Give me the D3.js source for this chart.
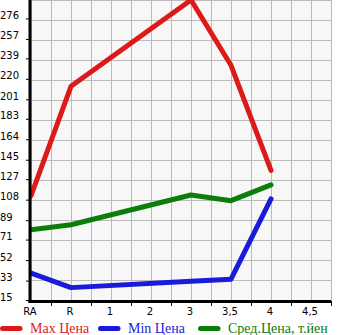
<!DOCTYPE html>
<html><head><meta charset="utf-8">
<script src="https://cdn.jsdelivr.net/npm/d3@7"></script>
<style>body{margin:0;background:#fff}svg{display:block}</style>
</head><body>
<svg id="c" width="345" height="335"></svg>
<script>
const categories = ["RA","R","1","2","3","3,5","4","4,5"];
const maxPrice = [112.6, 214, null, null, 294, 233.5, 136, null];
const minPrice = [40.8, 27.4, null, null, 33.4, 35.2, 109.6, null];
const avgPrice = [81, 85.7, null, null, 113.3, 108, 122.6, null];
const yTicks = [15, 33, 52, 71, 89, 108, 127, 145, 164, 183, 201, 220, 239, 257, 276];
const seriesNames = ["Max Цена", "Min Цена", "Сред.Цена, т.йен"];

const svg = d3.select("#c");
const L = 31, R = 331, T = 0, B = 301;
const x = d3.scalePoint().domain(categories).range([L, L + 280]);
const y = d3.scaleLinear().domain([15, 15 + 15 * 18.6]).range([B, T]);
const colors = ["#dc1a1a", "#1a1adc", "#0a7d0a"];

svg.append("rect").attr("x", L).attr("y", T).attr("width", R - L).attr("height", B - T).attr("fill", "#f7f7f7");

// grid
const step = x.step() / 2;
const gx = d3.range(L, R + 0.1, step);
svg.append("g").selectAll("line").data(gx).join("line")
  .attr("x1", d => d + 0.5).attr("x2", d => d + 0.5).attr("y1", T).attr("y2", B)
  .attr("stroke", "#bbb").attr("stroke-width", 1);
const gy = d3.range(0, 16).map(i => B - i * 20);
svg.append("g").selectAll("line").data(gy).join("line")
  .attr("x1", L).attr("x2", R).attr("y1", d => d - 0.5).attr("y2", d => d - 0.5)
  .attr("stroke", "#bbb").attr("stroke-width", 1);

// lines
svg.append("clipPath").attr("id", "clip").append("rect").attr("x", L).attr("y", T - 3).attr("width", R - L).attr("height", B - T + 3);
const series = [maxPrice, minPrice, avgPrice];
const line = d3.line().x(d => x(d.c)).y(d => y(d.v));
series.forEach((s, i) => {
  const pts = categories.map((c, j) => ({c, v: s[j]})).filter(d => d.v != null);
  svg.append("path").attr("d", line(pts)).attr("fill", "none")
    .attr("stroke", colors[i]).attr("stroke-width", 5)
    .attr("stroke-linejoin", "round").attr("stroke-linecap", "round")
    .attr("clip-path", "url(#clip)");
});

// axes
const font = "DejaVu Sans";
svg.append("line").attr("x1", L - 1).attr("x2", L - 1).attr("y1", T).attr("y2", B + 2).attr("stroke", "#000").attr("stroke-width", 3);
svg.append("line").attr("x1", L - 2.5).attr("x2", R).attr("y1", B + 0.5).attr("y2", B + 0.5).attr("stroke", "#000").attr("stroke-width", 3);
// y ticks
svg.append("g").selectAll("line").data(yTicks).join("line")
  .attr("x1", L - 5).attr("x2", L - 1).attr("y1", d => y(d) - 0.5).attr("y2", d => y(d) - 0.5)
  .attr("stroke", "#000");
svg.append("g").selectAll("text").data(yTicks).join("text")
  .attr("x", 0).attr("y", d => y(d) - 0.5)
  .attr("font-family", font).attr("font-size", 10).attr("fill", "#000")
  .text(d => d);
// x ticks
const xt = d3.range(L + step, R + 0.1, 2 * step);
svg.append("g").selectAll("line").data(xt).join("line")
  .attr("x1", d => d + 0.5).attr("x2", d => d + 0.5).attr("y1", B).attr("y2", B + 5)
  .attr("stroke", "#000");
svg.append("g").selectAll("text").data(categories).join("text")
  .attr("x", d => x(d) - 1).attr("y", 315).attr("text-anchor", "middle")
  .attr("font-family", font).attr("font-size", 10).attr("fill", "#000")
  .text(d => d);

// legend
const lx = [0, 98, 198];
seriesNames.forEach((n, i) => {
  svg.append("line").attr("x1", lx[i] + 2.5).attr("x2", lx[i] + 20).attr("y1", 328.5).attr("y2", 328.5)
    .attr("stroke", colors[i]).attr("stroke-width", 5).attr("stroke-linecap", "round");
  svg.append("text").attr("x", lx[i] + 30).attr("y", 333)
    .attr("font-family", "Liberation Serif").attr("font-size", 14).attr("fill", colors[i]).text(n);
});
</script>
</body></html>
